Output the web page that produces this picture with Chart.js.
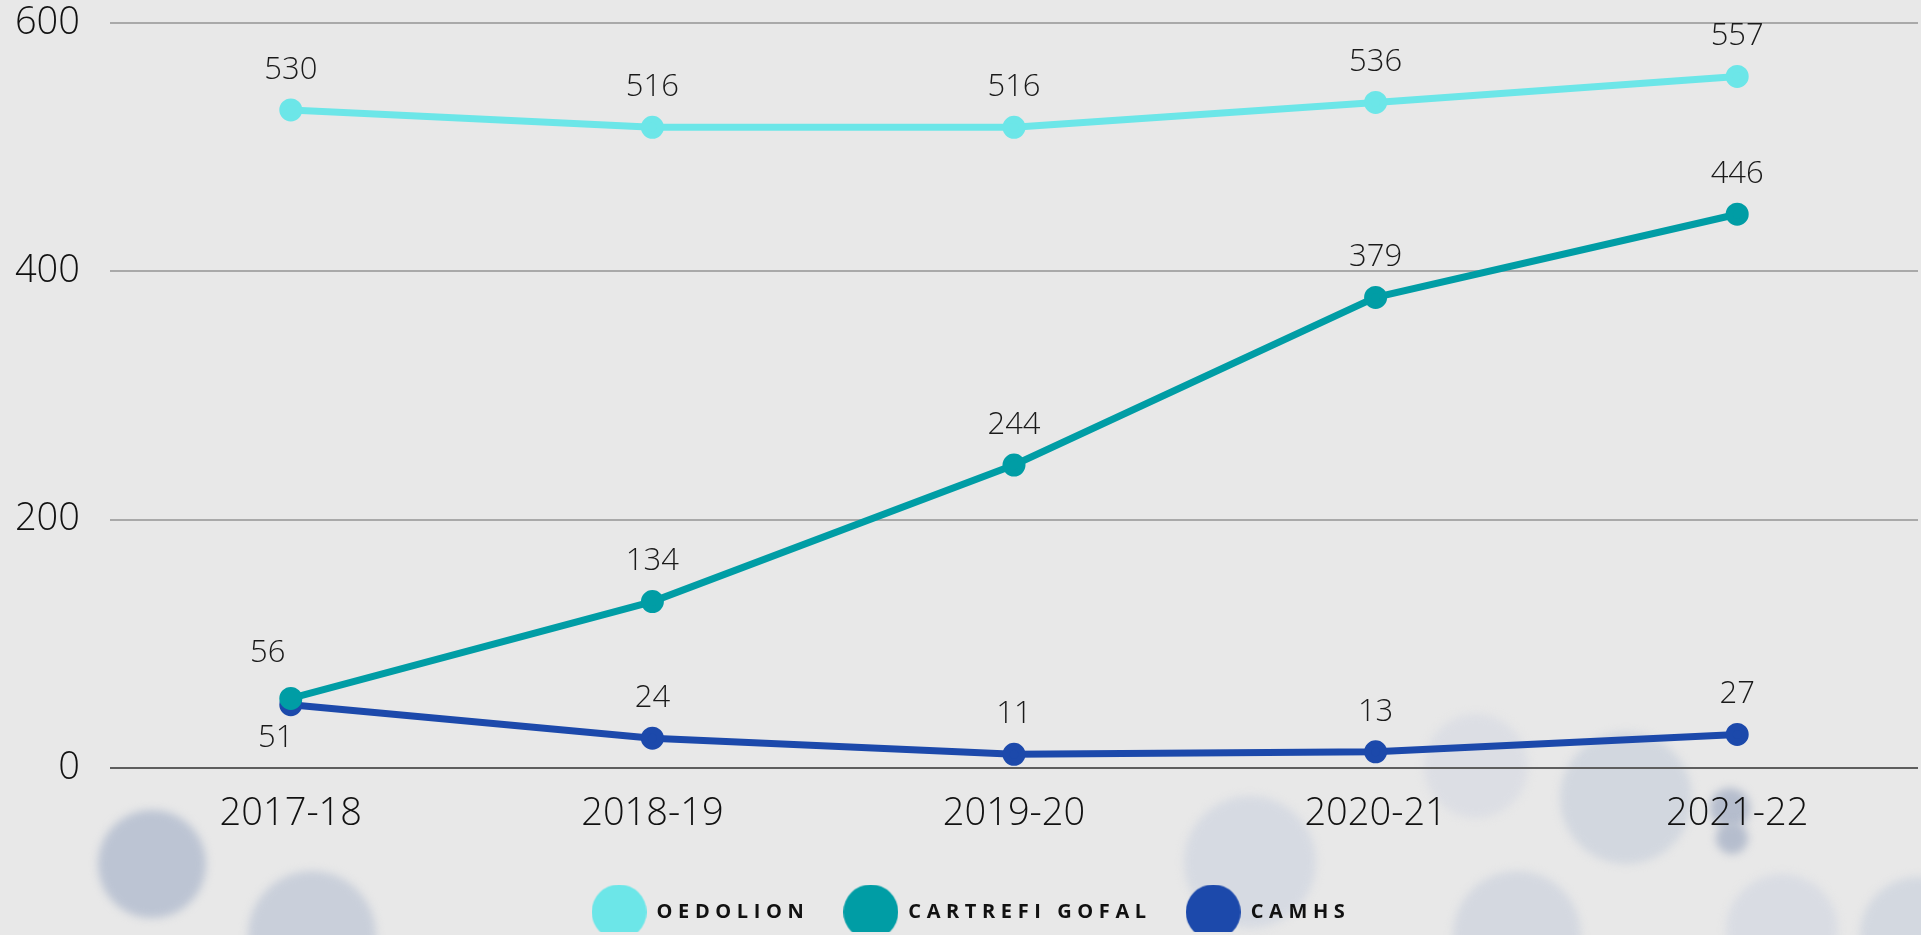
<!DOCTYPE html>
<html lang="en">
<head>
  <meta charset="UTF-8">
  <title>Oedolion / Cartrefi Gofal / CAMHS</title>
  <script src="https://cdn.jsdelivr.net/npm/chart.js"></script>
  <style>
    html, body {
      margin: 0;
      padding: 0;
      background: #e8e8e8;
      overflow: hidden;
    }
    canvas {
      display: block;
    }
  </style>
</head>
<body>
<canvas id="chart" width="1921" height="935"></canvas>

<script>
  // data
  const years = ["2017-18", "2018-19", "2019-20", "2020-21", "2021-22"];
  const oedolion = [530, 516, 516, 536, 557];
  const cartrefiGofal = [56, 134, 244, 379, 446];
  const camhs = [51, 24, 11, 13, 27];
  const yTicks = [0, 200, 400, 600];
  const seriesNames = ["OEDOLION", "CARTREFI GOFAL", "CAMHS"];

  const colors = ["#6ce6e8", "#009da5", "#1c49ab"];

  // big round legend markers
  function dot(color, d) {
    const c = document.createElement("canvas");
    c.width = d;
    c.height = d;
    const g = c.getContext("2d");
    g.fillStyle = color;
    g.beginPath();
    g.arc(d / 2, d / 2, d / 2, 0, Math.PI * 2);
    g.fill();
    return c;
  }

  // soft blurred bubbles in the background
  const bubbles = [
    [152, 864, 54, "#bcc4d3"],
    [312, 935, 64, "#c9cfda"],
    [1250, 862, 66, "#d6dae2"],
    [1476, 766, 52, "#dcdee4"],
    [1626, 798, 66, "#d2d7df"],
    [1730, 808, 20, "#b5bdcd"],
    [1732, 838, 16, "#b5bdcd"],
    [1517, 935, 64, "#d4d8e0"],
    [1782, 930, 56, "#d9dce3"],
    [1918, 935, 58, "#d3d8e0"]
  ];

  const backdrop = {
    id: "backdrop",
    beforeDraw(chart) {
      const ctx = chart.ctx;
      ctx.save();
      ctx.fillStyle = "#e8e8e8";
      ctx.fillRect(0, 0, chart.width, chart.height);
      ctx.filter = "blur(4px)";
      bubbles.forEach(([x, y, r, c]) => {
        ctx.fillStyle = c;
        ctx.beginPath();
        ctx.arc(x, y, r, 0, Math.PI * 2);
        ctx.fill();
      });
      ctx.restore();
    }
  };

  // value labels next to each point
  const valueLabels = {
    id: "valueLabels",
    afterDatasetsDraw(chart) {
      const ctx = chart.ctx;
      ctx.save();
      ctx.font = "300 31px 'Open Sans'";
      ctx.fillStyle = "#1a1a1a";
      ctx.textAlign = "center";
      ctx.textBaseline = "middle";
      chart.data.datasets.forEach((ds, i) => {
        const meta = chart.getDatasetMeta(i);
        meta.data.forEach((pt, j) => {
          let dx = 0, dy = -40;
          if (ds.labelShift) [dx, dy] = ds.labelShift(j) || [dx, dy];
          ctx.fillText(String(ds.data[j]), pt.x + dx, pt.y + dy);
        });
      });
      ctx.restore();
    }
  };

  // wide letter spacing for the legend text, fixed legend height,
  // and a small nudge to the right like the original
  const spacedLegend = {
    id: "spacedLegend",
    afterInit(chart) {
      const lg = chart.legend;
      ["fit", "draw"].forEach(m => {
        const orig = lg[m].bind(lg);
        lg[m] = function () {
          const prev = chart.ctx.letterSpacing;
          chart.ctx.letterSpacing = "5.6px";
          if (m === "draw") { lg.left += 12; lg.right += 12; }
          const r = orig();
          if (m === "draw") { lg.left -= 12; lg.right -= 12; }
          chart.ctx.letterSpacing = prev;
          if (m === "fit") lg.height = 64;
          return r;
        };
      });
    }
  };

  const series = [oedolion, cartrefiGofal, camhs];

  new Chart(document.getElementById("chart"), {
    type: "line",
    data: {
      labels: years,
      datasets: series.map((vals, i) => ({
        label: seriesNames[i],
        data: vals,
        borderColor: colors[i],
        backgroundColor: colors[i],
        borderWidth: 7,
        pointRadius: 8,
        pointHoverRadius: 8,
        tension: 0,
        labelShift: i === 1 ? (j => j === 0 ? [-23, -45] : null)
                  : i === 2 ? (j => j === 0 ? [-15, 33] : null)
                  : null
      }))
    },
    options: {
      responsive: false,
      animation: false,
      layout: {
        autoPadding: false,
        padding: { top: 23, right: 3, bottom: 3, left: 0 }
      },
      scales: {
        x: {
          offset: true,
          grid: { display: false, drawTicks: false },
          border: { display: false },
          ticks: {
            color: "#111",
            font: { family: "'Open Sans'", size: 38, weight: 300 },
            padding: 23
          },
          afterFit(scale) {
            scale.height = 100;
            scale.paddingLeft = 0;
            scale.paddingRight = 0;
          }
        },
        y: {
          min: 0,
          max: 600,
          afterBuildTicks(scale) { scale.ticks = yTicks.map(v => ({ value: v })); },
          grid: {
            drawTicks: false,
            lineWidth: 2,
            color: ctx => ctx.tick && ctx.tick.value === 0 ? "#5e5e5e" : "#a9a9a9"
          },
          border: { display: false },
          ticks: {
            color: "#111",
            font: { family: "'Open Sans'", size: 38, weight: 300 },
            padding: 30
          },
          afterFit(scale) {
            scale.width = 110;
            scale.paddingTop = 0;
            scale.paddingBottom = 0;
          }
        }
      },
      plugins: {
        tooltip: { enabled: false },
        legend: {
          position: "bottom",
          labels: {
            usePointStyle: true,
            pointStyleWidth: 55,
            padding: 34,
            color: "#111",
            font: { family: "'Open Sans'", size: 20, weight: "bold" },
            generateLabels(chart) {
              return Chart.defaults.plugins.legend.labels.generateLabels(chart).map((it, i) => {
                it.pointStyle = dot(colors[i], 55);
                return it;
              });
            }
          }
        }
      }
    },
    plugins: [backdrop, valueLabels, spacedLegend]
  });
</script>
</body>
</html>
